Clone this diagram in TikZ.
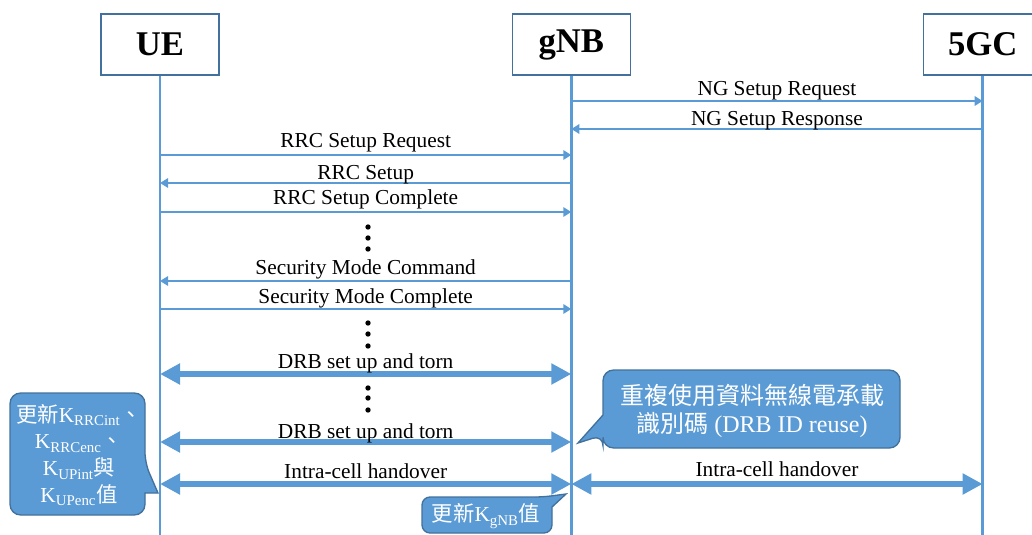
\documentclass[tikz,border=0pt]{standalone}
\usepackage{fontspec}
\setmainfont{Liberation Serif}
\newfontfamily\cjk{Noto Sans CJK TC}
\usetikzlibrary{positioning, arrows.meta}
\definecolor{msgblue}{RGB}{91,155,213}
\definecolor{edgeblue}{RGB}{65,113,156}
\tikzset{
x=0.75pt, y=-0.75pt, % one unit is one pixel of the drawing, y grows downwards
entity/.style={draw=edgeblue, line width=1pt, minimum width=88.5pt, minimum height=45.75pt,
  font=\fontsize{26}{30}\selectfont\bfseries}, % the boxes on top
lifeline/.style={draw=msgblue, line width=2pt},
msg/.style={draw=msgblue, line width=1.6pt, -{Triangle[length=6pt,width=7pt]}}, % thin message
bigmsg/.style={draw=msgblue, line width=4.5pt,
  {Triangle[length=15pt,width=15pt]}-{Triangle[length=15pt,width=15pt]}}, % thick two-way arrow
lbl/.style={anchor=base, inner sep=0pt, font=\fontsize{16}{19}\selectfont},
notebox/.style={fill=msgblue, draw=edgeblue, line width=1pt}, % the blue speech boxes
notetext/.style={text=white, align=center, inner sep=0pt},
dot/.style={circle, fill=black, inner sep=0pt, minimum size=4pt},
}
\begin{document}
\begin{tikzpicture}
\useasboundingbox (0,0) rectangle (1032,535);
\node[entity] (ue) at (160,44.5) {UE};
\node[entity, right=219pt of ue] (gnb) {gNB};
\node[entity, right=219pt of gnb] (cn) {5GC};

\foreach \n in {ue,gnb,cn} {
  \coordinate (\n-end) at (\n.south |- 0,535);
  \draw[lifeline] (\n.south) -- (\n-end);
}
\foreach \m/\y in {ngreq/101, ngrsp/129, rrcreq/155, rrc/183, rrccpl/212, smc/281, smcpl/309, drba/374, drbb/442, ho/484} {
  \coordinate (ue-\m) at (ue.south |- 0,\y);
  \coordinate (gnb-\m) at (gnb.south |- 0,\y);
  \coordinate (cn-\m) at (cn.south |- 0,\y);
}

\draw[msg] (gnb-ngreq) -- node[lbl, yshift=4.5pt] {NG Setup Request} (cn-ngreq);
\draw[msg] (cn-ngrsp) -- node[lbl, yshift=3pt] {NG Setup Response} (gnb-ngrsp);
\draw[msg] (ue-rrcreq) -- node[lbl, yshift=6pt] {RRC Setup Request} (gnb-rrcreq);
\draw[msg] (gnb-rrc) -- node[lbl, yshift=3pt] {RRC Setup} (ue-rrc);
\draw[msg] (ue-rrccpl) -- node[lbl, yshift=6pt] {RRC Setup Complete} (gnb-rrccpl);
\draw[msg] (gnb-smc) -- node[lbl, yshift=5pt] {Security Mode Command} (ue-smc);
\draw[msg] (ue-smcpl) -- node[lbl, yshift=4.5pt] {Security Mode Complete} (gnb-smcpl);
\draw[bigmsg] (ue-drba) -- node[lbl, yshift=4.5pt] {DRB set up and torn} (gnb-drba);
\draw[bigmsg] (ue-drbb) -- node[lbl, yshift=3pt] {DRB set up and torn} (gnb-drbb);
\draw[bigmsg] (ue-ho) -- node[lbl, yshift=4.5pt] {Intra-cell handover} (gnb-ho);
\draw[bigmsg] (gnb-ho) -- node[lbl, yshift=6pt] {Intra-cell handover} (cn-ho);

\foreach \y in {227,238,249,323,334,346,388,398,410}
  \node[dot] (dot-\y) at (368,\y) {};

% speech boxes, the tips point at the lifelines
\draw[notebox] (78,393) [rounded corners=8pt] -- (145,393) -- (145,463) [sharp corners] -- (158,493)
  -- (145,493) [rounded corners=8pt] -- (145,515) -- (10,515) -- (10,393) -- cycle;
\draw[notebox] (750,370) [rounded corners=8pt] -- (900,370) -- (900,448) -- (603,448) -- (603,435)
  [sharp corners] -- (578,443) -- (603,415) [rounded corners=8pt] -- (603,370) -- cycle;
\draw[notebox] (480,497) [rounded corners=6pt] -- (543,497) [sharp corners] -- (566,494)
  -- (552,507) [rounded corners=6pt] -- (552,533) -- (422,533) -- (422,497) -- cycle;

\node[notetext, font=\fontsize{16}{20}\selectfont] (keys) at (79,455)
  {{\cjk 更新}K\textsubscript{RRCint}{\cjk 、}\\K\textsubscript{RRCenc}{\cjk 、}\\
   K\textsubscript{UPint}{\cjk 與}\\K\textsubscript{UPenc}{\cjk 值}};
\node[notetext, font=\fontsize{18}{21}\selectfont] (reuse) at (752,411)
  {{\cjk 重複使用資料無線電承載}\\{\cjk 識別碼} (DRB ID reuse)};
\node[notetext, font=\fontsize{16}{20}\selectfont] (kgnb) at (486,516)
  {{\cjk 更新}K\textsubscript{gNB}{\cjk 值}};
\end{tikzpicture}
\end{document}
